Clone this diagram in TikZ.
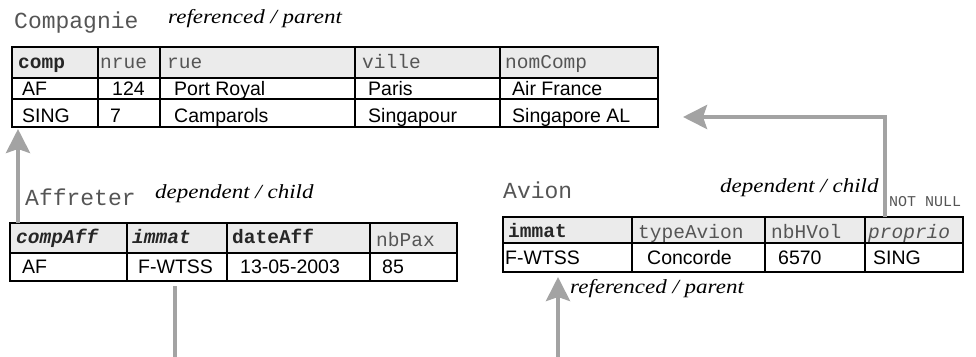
\documentclass[tikz,border=0pt]{standalone}
\usepackage{fontspec}
\usepackage{graphicx}
\setmainfont{Liberation Serif}
\newfontfamily\mono{Liberation Mono}
\newfontfamily\arial{Liberation Sans}
\usetikzlibrary{arrows.meta}
\definecolor{hdr}{HTML}{EBEBEB}
\definecolor{conn}{HTML}{A3A3A3}
\definecolor{ttl}{HTML}{555555}
\newcommand\tcell[6]{\node[#6, minimum width={#4-#2}, minimum height={#5-#3}] (#1) at (#2,#3) {};}
\newcommand\rolelabel[1]{\scalebox{1.15}[1]{#1}}
\tikzset{
  cellbox/.style={draw=black, line width=1.6pt, inner sep=0pt, outer sep=0pt, anchor=north west},
  hcell/.style={cellbox, fill=hdr},
  dcell/.style={cellbox, fill=white},
  title/.style={anchor=base west, inner sep=0pt, font=\mono\fontsize{23}{23}\selectfont, text=ttl},
  role/.style={anchor=base west, inner sep=0pt, font=\itshape\fontsize{20}{20}\selectfont},
  hd/.style={anchor=base west, inner sep=0pt, font=\mono\fontsize{19.5}{19.5}\selectfont, text=ttl},
  hdb/.style={anchor=base west, inner sep=0pt, font=\mono\bfseries\fontsize{19.5}{19.5}\selectfont, text=black!85},
  hdbi/.style={anchor=base west, inner sep=0pt, font=\mono\bfseries\itshape\fontsize{19.5}{19.5}\selectfont, text=black!85},
  hdi/.style={anchor=base west, inner sep=0pt, font=\mono\itshape\fontsize{19.5}{19.5}\selectfont, text=ttl},
  dt/.style={anchor=base west, inner sep=0pt, font=\arial\fontsize{19.5}{19.5}\selectfont},
  note/.style={anchor=base west, inner sep=0pt, font=\mono\fontsize{15}{15}\selectfont, text=ttl},
  fk/.style={draw=conn, line width=4pt},
  fkarrow/.style={fk, -{Stealth[length=24pt,width=24pt,inset=4pt,fill=conn]}},
}
\begin{document}
\begin{tikzpicture}[x=1pt,y=-1pt]
\useasboundingbox (0,0) rectangle (976,356);
% ---------- Compagnie ----------
\tcell{c1h}{12}{47}{98}{78}{hcell}
\tcell{c2h}{98}{47}{160}{78}{hcell}
\tcell{c3h}{160}{47}{355}{78}{hcell}
\tcell{c4h}{355}{47}{500}{78}{hcell}
\tcell{c5h}{500}{47}{658}{78}{hcell}
\tcell{c1r1}{12}{78}{98}{99}{dcell}
\tcell{c2r1}{98}{78}{160}{99}{dcell}
\tcell{c3r1}{160}{78}{355}{99}{dcell}
\tcell{c4r1}{355}{78}{500}{99}{dcell}
\tcell{c5r1}{500}{78}{658}{99}{dcell}
\tcell{c1r2}{12}{99}{98}{127}{dcell}
\tcell{c2r2}{98}{99}{160}{127}{dcell}
\tcell{c3r2}{160}{99}{355}{127}{dcell}
\tcell{c4r2}{355}{99}{500}{127}{dcell}
\tcell{c5r2}{500}{99}{658}{127}{dcell}
\node[title] (tcomp) at (14,28) {Compagnie};
\node[role] (rcomp) at (168,23) {\rolelabel{referenced / parent}};
\node[hdb] (hc1) at (18,68) {comp};
\node[hd] (hc2) at (100,68) {nrue};
\node[hd] (hc3) at (167,68) {rue};
\node[hd] (hc4) at (362,68) {ville};
\node[hd] (hc5) at (505,68) {nomComp};
\node[dt] (d11) at (22,95) {AF};
\node[dt] (d12) at (112,95) {124};
\node[dt] (d13) at (174,95) {Port Royal};
\node[dt] (d14) at (368,95) {Paris};
\node[dt] (d15) at (512,95) {Air France};
\node[dt] (d21) at (22,122) {SING};
\node[dt] (d22) at (110,122) {7};
\node[dt] (d23) at (174,122) {Camparols};
\node[dt] (d24) at (368,122) {Singapour};
\node[dt] (d25) at (512,122) {Singapore AL};
% ---------- Affreter ----------
\tcell{a1h}{10}{223}{127}{253}{hcell}
\tcell{a2h}{127}{223}{227}{253}{hcell}
\tcell{a3h}{227}{223}{370}{253}{hcell}
\tcell{a4h}{370}{223}{457}{253}{hcell}
\tcell{a1r}{10}{253}{127}{281}{dcell}
\tcell{a2r}{127}{253}{227}{281}{dcell}
\tcell{a3r}{227}{253}{370}{281}{dcell}
\tcell{a4r}{370}{253}{457}{281}{dcell}
\node[title] (taff) at (25,205) {Affreter};
\node[role] (raff) at (155,198) {\rolelabel{dependent / child}};
\node[hdbi] (ha1) at (16,243) {compAff};
\node[hdbi] (ha2) at (132,243) {immat};
\node[hdb] (ha3) at (232,243) {dateAff};
\node[hd] (ha4) at (376,246) {nbPax};
\node[dt] (da1) at (22,273) {AF};
\node[dt] (da2) at (138,273) {F-WTSS};
\node[dt] (da3) at (240,273) {13-05-2003};
\node[dt] (da4) at (382,273) {85};
% ---------- Avion ----------
\tcell{v1h}{503}{217}{632}{243}{hcell}
\tcell{v2h}{632}{217}{765}{243}{hcell}
\tcell{v3h}{765}{217}{865}{243}{hcell}
\tcell{v4h}{865}{217}{963}{243}{hcell}
\tcell{v1r}{503}{243}{632}{272}{dcell}
\tcell{v2r}{632}{243}{765}{272}{dcell}
\tcell{v3r}{765}{243}{865}{272}{dcell}
\tcell{v4r}{865}{243}{963}{272}{dcell}
\node[title] (tav) at (503,198) {Avion};
\node[role] (rav) at (720,192) {\rolelabel{dependent / child}};
\node[note] (nn) at (889,206) {NOT NULL};
\node[hdb] (hv1) at (508,237) {immat};
\node[hd] (hv2) at (638,238) {typeAvion};
\node[hd] (hv3) at (771,238) {nbHVol};
\node[hdi] (hv4) at (868,238) {proprio};
\node[dt] (dv1) at (505,264) {F-WTSS};
\node[dt] (dv2) at (647,264) {Concorde};
\node[dt] (dv3) at (778,264) {6570};
\node[dt] (dv4) at (873,264) {SING};
\node[role] (rav2) at (570,293) {\rolelabel{referenced / parent}};
% ---------- connectors ----------
\draw[fkarrow] ([xshift=8pt]a1h.north west) -- ([xshift=8pt,yshift=-2pt]a1h.north west |- c1r2.south);
\coordinate (rbend) at (885,117);
\draw[fkarrow] (v4h.north -| rbend) -- (rbend) -- ([xshift=25pt]c5r2.east |- rbend);
\coordinate (bl) at (175,362);
\coordinate (br) at (558,362);
\draw[fkarrow] ([yshift=-5pt]a2r.south -| bl) -- (bl) -- (br) -- ([yshift=-5pt]v1r.south -| br);
\end{tikzpicture}
\end{document}
